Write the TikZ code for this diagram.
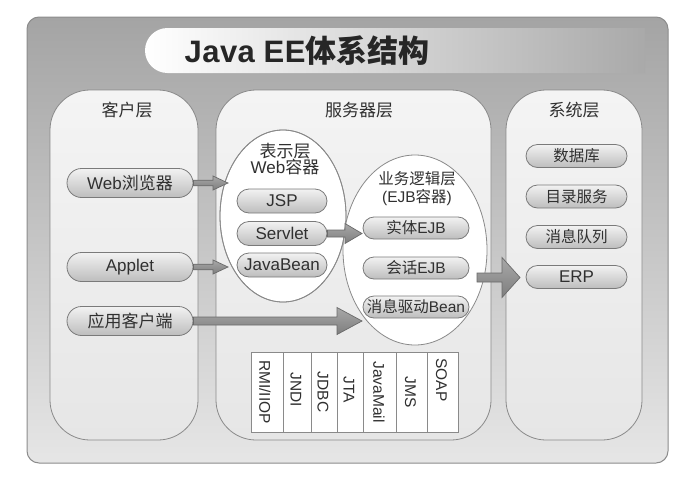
\documentclass[tikz,border=0pt]{standalone}
\usepackage{fontspec}
\setmainfont{Liberation Sans}
\newfontfamily\cjk{Noto Sans CJK SC}
\usetikzlibrary{shapes.misc,shapes.geometric,calc}
\newcommand\zh[1]{{\cjk #1}}
\definecolor{frameTop}{HTML}{A4A4A4}
\definecolor{frameBot}{HTML}{E6E6E6}
\definecolor{frameLine}{HTML}{8C8C8C}
\definecolor{colTop}{HTML}{F4F4F4}
\definecolor{colBot}{HTML}{E6E6E6}
\definecolor{colLine}{HTML}{8A8A8A}
\definecolor{pillTop}{HTML}{F2F2F2}
\definecolor{pillBot}{HTML}{BDBDBD}
\definecolor{pillLine}{HTML}{7A7A7A}
\definecolor{arrTop}{HTML}{A8A8A8}
\definecolor{arrBot}{HTML}{7E7E7E}
\definecolor{arrLine}{HTML}{6A6A6A}
\definecolor{txt}{HTML}{303030}
\newcommand\fatarrow[5]{% start, tip, shaft half, head half, head length
  \path[fatarr] ($(#1)+(0,-#3)$) -- ($(#2)+(-#5,-#3)$) -- ($(#2)+(-#5,-#4)$) -- (#2)
    -- ($(#2)+(-#5,#4)$) -- ($(#2)+(-#5,#3)$) -- ($(#1)+(0,#3)$) -- cycle;}
\begin{document}
\begin{tikzpicture}[x=1pt,y=-1pt,
  column/.style={draw=colLine, line width=0.8pt, rounded corners=40, top color=colTop, bottom color=colBot, inner sep=0},
  pill/.style={rounded rectangle, draw=pillLine, line width=0.8pt, top color=pillTop, bottom color=pillBot, inner sep=0, text=txt, font=\fontsize{17}{20}\selectfont},
  spill/.style={pill, font=\fontsize{15.5}{18}\selectfont},
  head/.style={text=txt, font=\fontsize{17}{20}\selectfont},
  oval/.style={ellipse, draw=colLine, line width=0.8pt, fill=white, inner sep=0},
  cell/.style={draw=colLine, line width=0.7pt, fill=white, inner sep=0},
  api/.style={rotate=-90, text=txt, font=\fontsize{15.5}{18}\selectfont, inner sep=0},
  fatarr/.style={draw=arrLine, line width=0.7pt, top color=arrTop, bottom color=arrBot, line join=miter}
]
\useasboundingbox (0,0) rectangle (695,479);
\fill[white] (0,0) rectangle (695,479);
% outer frame
\node[draw=frameLine, line width=1pt, rounded corners=12, top color=frameTop, bottom color=frameBot,
  minimum width=641, minimum height=446, inner sep=0] (frame) at (347.5,240) {};
% title bar
\node[rounded rectangle, rounded rectangle right arc=none, minimum width=500, minimum height=45, inner sep=0,
  shading=axis, left color=white, middle color=white!70!frameTop, right color=frameTop!92!frameBot] (titlebar) at (395,50.5) {};
\node[anchor=west, text=black!85, font=\bfseries\fontsize{31}{34}\selectfont] (title) at (181,51)
  {J\kern0.5pt a\kern0.5pt v\kern0.5pt a E\kern0.5pt E{\cjk\bfseries 体系结构}};
% columns
\node[column, minimum width=148, minimum height=350] (client) at (124,265) {};
\node[column, minimum width=275, minimum height=350] (server) at (353.5,265) {};
\node[column, minimum width=136, minimum height=350] (system) at (574,265) {};
\node[head] (clienth) at (127,110) {\zh{客户层}};
\node[head] (serverh) at (359,110) {\zh{服务器层}};
\node[head] (systemh) at (574,110) {\zh{系统层}};
% ellipses
\node[oval, minimum width=126, minimum height=172] (pres) at (283,216) {};
\node[oval, minimum width=144, minimum height=190] (biz) at (415,250) {};
\draw[colLine, line width=0.8pt] (pres.center) ellipse [x radius=63, y radius=86];
\node[text=txt, align=center, font=\fontsize{17}{16.5}\selectfont] (presh) at (285,159)
  {\zh{表示层}\\Web\zh{容器}};
\node[text=txt, align=center, font=\fontsize{15.5}{18}\selectfont] (bizh) at (417,189)
  {\zh{业务逻辑层}\\(EJB\zh{容器})};
% client pills
\node[pill, minimum width=126, minimum height=29] (web) at (130,183) {Web\zh{浏览器}};
\node[pill, minimum width=126, minimum height=29] (applet) at (130,267) {Applet};
\node[pill, minimum width=126, minimum height=29] (app) at (130,321) {\zh{应用客户端}};
% web container pills
\node[pill, minimum width=90, minimum height=24] (jsp) at (282,201) {JSP};
\node[pill, minimum width=90, minimum height=24] (servlet) at (282,233.5) {Servlet};
\node[pill, minimum width=90, minimum height=24] (javabean) at (282,265) {JavaBean};
% EJB pills
\node[spill, minimum width=106, minimum height=22] (entity) at (416,228) {\zh{实体}EJB};
\node[spill, minimum width=106, minimum height=22] (session) at (416,268) {\zh{会话}EJB};
\node[spill, minimum width=106, minimum height=22] (mdb) at (416,307) {\zh{消息驱动}Bean};
% system pills
\node[spill, minimum width=101, minimum height=23] (db) at (576.5,156) {\zh{数据库}};
\node[spill, minimum width=101, minimum height=23] (dir) at (576.5,196.5) {\zh{目录服务}};
\node[spill, minimum width=101, minimum height=23] (mq) at (576.5,237) {\zh{消息队列}};
\node[spill, minimum width=101, minimum height=23, font=\fontsize{17}{20}\selectfont] (erp) at (576.5,277) {ERP};
% API table
\node[cell, minimum width=32, minimum height=80] (c1) at (267,392) {};
\node[cell, minimum width=28, minimum height=80] (c2) at (297,392) {};
\node[cell, minimum width=26, minimum height=80] (c3) at (324,392) {};
\node[cell, minimum width=26, minimum height=80] (c4) at (350,392) {};
\node[cell, minimum width=33, minimum height=80] (c5) at (379.5,392) {};
\node[cell, minimum width=31, minimum height=80] (c6) at (411.5,392) {};
\node[cell, minimum width=31, minimum height=80] (c7) at (442.5,392) {};
\node[api] (t1) at (265,392) {RMI/IIOP};
\node[api] (t2) at (296,390) {JNDI};
\node[api] (t3) at (323,392) {JDBC};
\node[api] (t4) at (349,390) {JTA};
\node[api] (t5) at (379,392) {JavaMail};
\node[api] (t6) at (410.5,392) {JMS};
\node[api] (t7) at (441.5,380) {SOAP};
% arrows
\coordinate (webtip) at (228,183);
\coordinate (applettip) at (228,267);
\coordinate (apptip) at (362,321);
\coordinate (servlettip) at (362,233.5);
\coordinate (bizout) at (477,277.5);
\coordinate (erptip) at (520,277.5);
\fatarrow{web.east}{webtip}{2.8}{7}{15}
\fatarrow{applet.east}{applettip}{2.8}{7}{15}
\fatarrow{app.east}{apptip}{4}{13.5}{25}
\fatarrow{servlet.east}{servlettip}{3.5}{10}{17}
\fatarrow{bizout}{erptip}{4.5}{20}{18}
\end{tikzpicture}
\end{document}
